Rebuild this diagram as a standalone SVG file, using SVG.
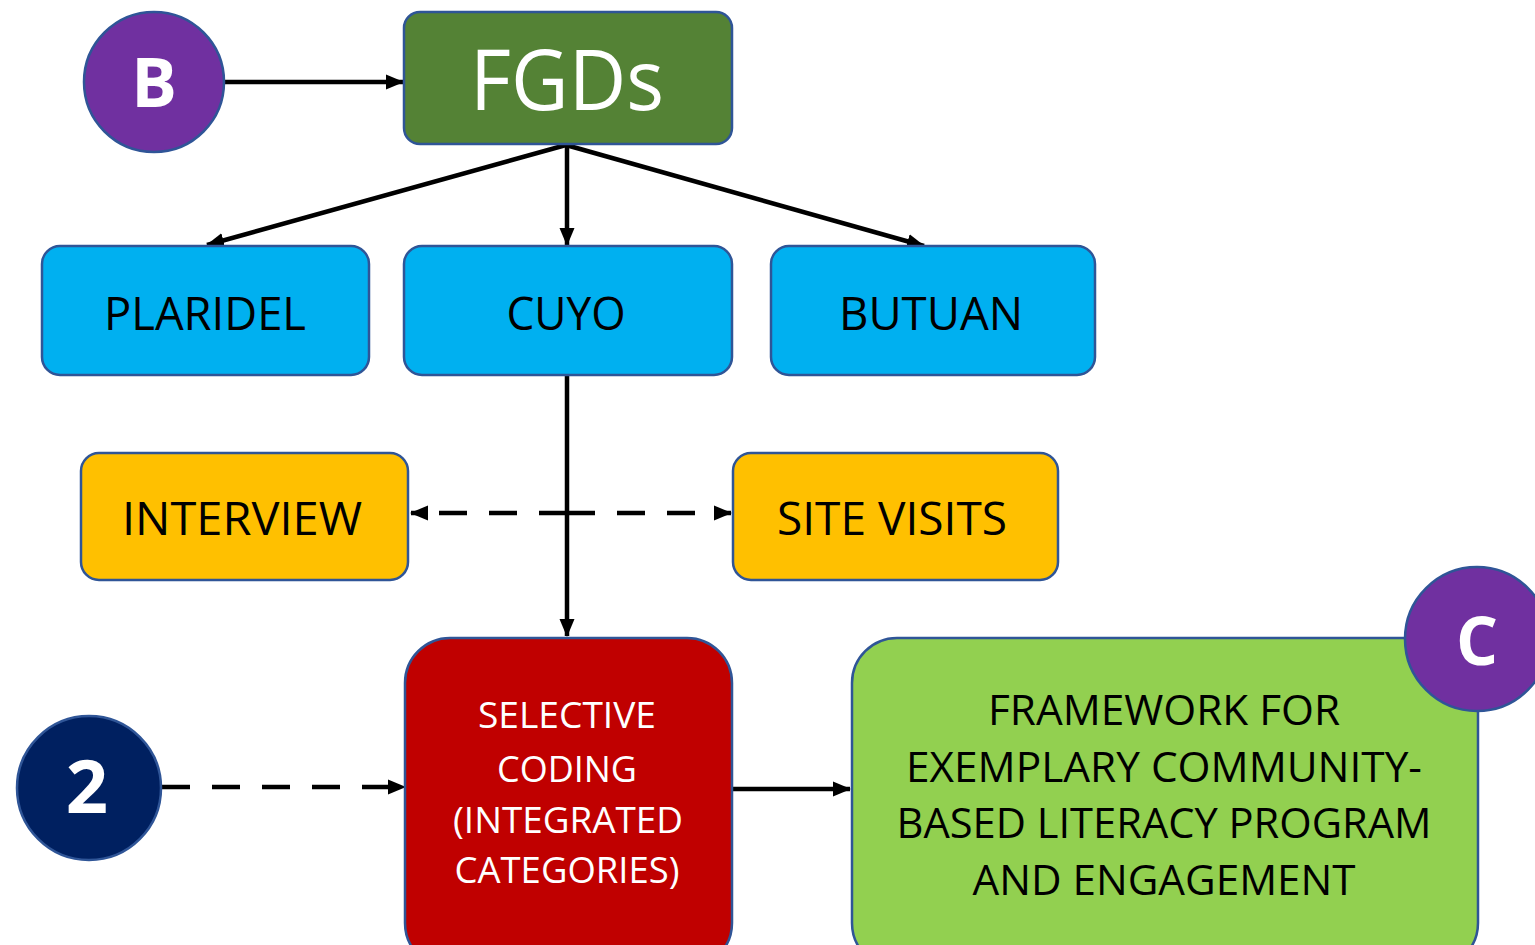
<svg xmlns="http://www.w3.org/2000/svg" width="1535" height="945" viewBox="0 0 1535 945">
<style>
.box{stroke:#2F5597;stroke-width:2.5}
.t{font-family:"Open Sans","Liberation Sans",sans-serif;text-anchor:middle}
.w{fill:#FFFFFF}
.k{fill:#000000}
.b{font-weight:bold}
.ln{stroke:#000000;stroke-width:4.5;fill:none}
.dash{stroke-dasharray:28 22}
</style>
<defs>
<marker id="ah" markerUnits="userSpaceOnUse" markerWidth="18" markerHeight="18" viewBox="0 0 18 18" refX="17" refY="9" orient="auto">
<path d="M0,1.5 L18,9 L0,16.5 Z" fill="#000000"/>
</marker>
</defs>
<rect width="1535" height="945" fill="#FFFFFF"/>
<g id="connectors">
<line class="ln" x1="224" y1="82" x2="403" y2="82" marker-end="url(#ah)"/>
<line class="ln" x1="566" y1="145" x2="207" y2="245" marker-end="url(#ah)"/>
<line class="ln" x1="567" y1="145" x2="567" y2="245" marker-end="url(#ah)"/>
<line class="ln" x1="566" y1="145" x2="924" y2="246" marker-end="url(#ah)"/>
<line class="ln" x1="567" y1="375" x2="567" y2="636" marker-end="url(#ah)"/>
<line class="ln dash" x1="567" y1="513" x2="411" y2="513" marker-end="url(#ah)"/>
<line class="ln dash" x1="567" y1="513" x2="731" y2="513" marker-end="url(#ah)"/>
<line class="ln dash" x1="162" y1="787" x2="405" y2="787" marker-end="url(#ah)"/>
<line class="ln" x1="732" y1="789" x2="850" y2="789" marker-end="url(#ah)"/>
</g>
<g id="B">
<circle cx="154" cy="82" r="70" fill="#7030A0" class="box"/>
<text class="t w b" x="154" y="107" font-size="68">B</text>
</g>
<g id="FGDs">
<rect class="box" x="404" y="12" width="328" height="132" rx="16" fill="#548235"/>
<text class="t w" x="567" y="110" font-size="84" textLength="194" lengthAdjust="spacingAndGlyphs">FGDs</text>
</g>
<g id="PLARIDEL">
<rect class="box" x="42" y="246" width="327" height="129" rx="18" fill="#00B0F0"/>
<text class="t k" x="205" y="330" font-size="46" textLength="202" lengthAdjust="spacingAndGlyphs">PLARIDEL</text>
</g>
<g id="CUYO">
<rect class="box" x="404" y="246" width="328" height="129" rx="18" fill="#00B0F0"/>
<text class="t k" x="566" y="330" font-size="46" textLength="119" lengthAdjust="spacingAndGlyphs">CUYO</text>
</g>
<g id="BUTUAN">
<rect class="box" x="771" y="246" width="324" height="129" rx="18" fill="#00B0F0"/>
<text class="t k" x="931" y="330" font-size="46" textLength="184" lengthAdjust="spacingAndGlyphs">BUTUAN</text>
</g>
<g id="INTERVIEW">
<rect class="box" x="81" y="453" width="327" height="127" rx="18" fill="#FFC000"/>
<text class="t k" x="242" y="535" font-size="46" textLength="240" lengthAdjust="spacingAndGlyphs">INTERVIEW</text>
</g>
<g id="SITE_VISITS">
<rect class="box" x="733" y="453" width="325" height="127" rx="18" fill="#FFC000"/>
<text class="t k" x="892" y="535" font-size="46" textLength="230" lengthAdjust="spacingAndGlyphs">SITE VISITS</text>
</g>
<g id="SELECTIVE_CODING">
<rect class="box" x="405" y="638" width="327" height="330" rx="45" fill="#C00000"/>
<text class="t w" x="567" y="728" font-size="36" textLength="178" lengthAdjust="spacingAndGlyphs">SELECTIVE</text>
<text class="t w" x="567" y="782" font-size="36" textLength="140" lengthAdjust="spacingAndGlyphs">CODING</text>
<text class="t w" x="568" y="833" font-size="36" textLength="230" lengthAdjust="spacingAndGlyphs">(INTEGRATED</text>
<text class="t w" x="567" y="883" font-size="36" textLength="225" lengthAdjust="spacingAndGlyphs">CATEGORIES)</text>
</g>
<g id="FRAMEWORK">
<rect class="box" x="852" y="638" width="626" height="330" rx="45" fill="#92D050"/>
<text class="t k" x="1164" y="725" font-size="42" textLength="352" lengthAdjust="spacingAndGlyphs">FRAMEWORK FOR</text>
<text class="t k" x="1164" y="782" font-size="42" textLength="516" lengthAdjust="spacingAndGlyphs">EXEMPLARY COMMUNITY-</text>
<text class="t k" x="1164" y="838" font-size="42" textLength="535" lengthAdjust="spacingAndGlyphs">BASED LITERACY PROGRAM</text>
<text class="t k" x="1164" y="895" font-size="42" textLength="383" lengthAdjust="spacingAndGlyphs">AND ENGAGEMENT</text>
</g>
<g id="C">
<circle cx="1477" cy="639" r="72" fill="#7030A0" class="box"/>
<text class="t w b" x="1477" y="665" font-size="66">C</text>
</g>
<g id="two">
<circle cx="89" cy="788" r="72" fill="#002060" class="box"/>
<text class="t w b" x="87" y="813" font-size="74">2</text>
</g>
</svg>
